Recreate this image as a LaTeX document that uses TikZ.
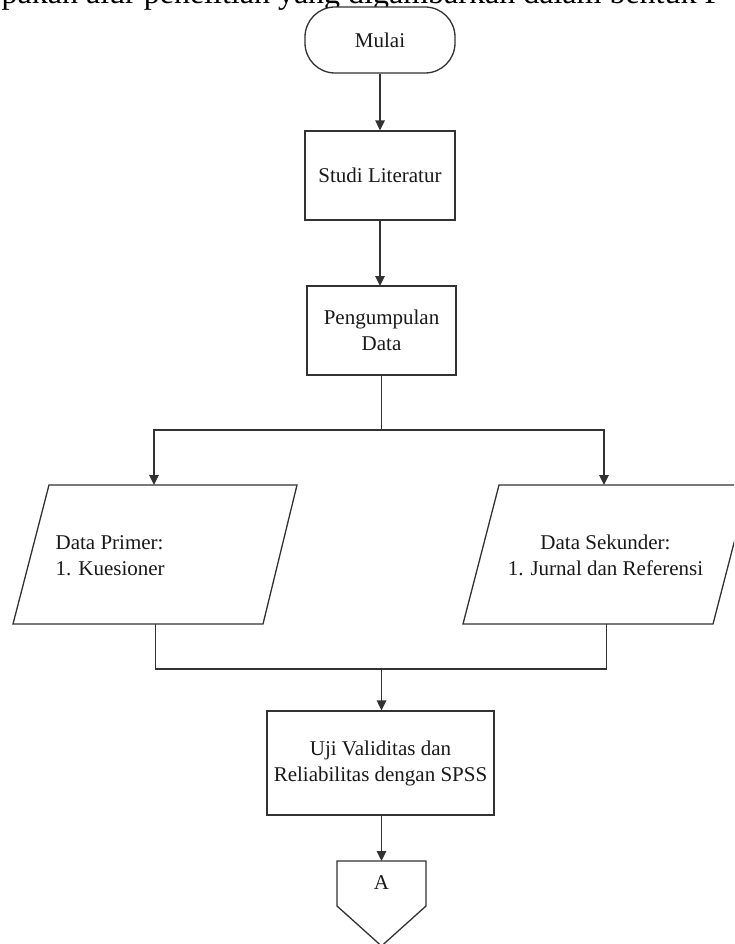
\documentclass[tikz,border=0pt]{standalone}
\usepackage{fontspec}
\setmainfont{Liberation Serif}
\usetikzlibrary{arrows.meta}
\definecolor{ln}{RGB}{50,50,50}
\definecolor{tx}{RGB}{25,25,25}
\begin{document}
\begin{tikzpicture}[x=1pt,y=-1pt,
  line width=1.3pt,
  box/.style={draw=ln, fill=white, rectangle, inner sep=0pt, align=center, text=tx, font=\fontsize{21}{26}\selectfont},
  term/.style={box, rounded corners=30pt},
  txt/.style={inner sep=0pt, text=tx, font=\fontsize{21}{26}\selectfont},
  conn/.style={draw=ln, line width=1.4pt},
  arr/.style={conn, -{Triangle[width=9.5pt,length=10pt]}}]
\useasboundingbox (0,0) rectangle (734,944);
\clip (0,0) rectangle (734,944);
\fill[white] (0,0) rectangle (734,944);
% cut-off caption line
\node[anchor=base west, inner sep=0pt, text=black, font=\fontsize{32}{38}\selectfont] (cap) at (1,3.5) {pakan alur penelitian yang digambarkan dalam bentuk F};
% nodes
\node[term, minimum width=150pt, minimum height=66pt] (mulai) at (380,40) {Mulai};
\node[box, minimum width=150pt, minimum height=89pt] (studi) at (380,175.5) {Studi Literatur};
\node[box, minimum width=149pt, minimum height=89pt] (peng) at (381.5,330.5) {Pengumpulan\\Data};
% parallelograms
\draw[ln, fill=white] (49,485) -- (297,485) -- (263,624) -- (13,624) -- cycle;
\draw[ln, fill=white] (499,485) -- (749,485) -- (713,624) -- (463,624) -- cycle;
\node[txt, anchor=base west] (primA) at (55,549) {Data Primer:};
\node[txt, anchor=base west] (primB) at (55,575) {1. Kuesioner};
\node[txt, anchor=base] (sekA) at (605.5,549) {Data Sekunder:};
\node[txt, anchor=base] (sekB) at (605.5,575) {1. Jurnal dan Referensi};
\coordinate (ptop) at (154,485);
\coordinate (stop) at (604,485);
\coordinate (pbot) at (155.7,624);
\coordinate (sbot) at (606.7,624);
\node[box, minimum width=227pt, minimum height=104pt] (uji) at (380.5,763) {Uji Validitas dan\\Reliabilitas dengan SPSS};
% off-page connector
\draw[ln, fill=white] (337,861) -- (426,861) -- (426,906) -- (381.5,946) -- (337,906) -- cycle;
\node[txt] (A) at (381.5,883) {A};
\coordinate (atop) at (381.5,861);
% connectors
\draw[arr] (mulai.south) -- (studi.north);
\draw[arr] (studi.south) -- (380,286);
\coordinate (split) at (381.5,430);
\draw[conn] (peng.south) -- (split);
\draw[arr] (split) -| (ptop);
\draw[arr] (split) -| (stop);
\coordinate (merge) at (381.5,669);
\draw[conn] (pbot) |- (merge);
\draw[conn] (sbot) |- (merge);
\draw[arr] (merge) -- (uji.north -| merge);
\draw[arr] (uji.south -| merge) -- (atop);
\end{tikzpicture}
\end{document}
